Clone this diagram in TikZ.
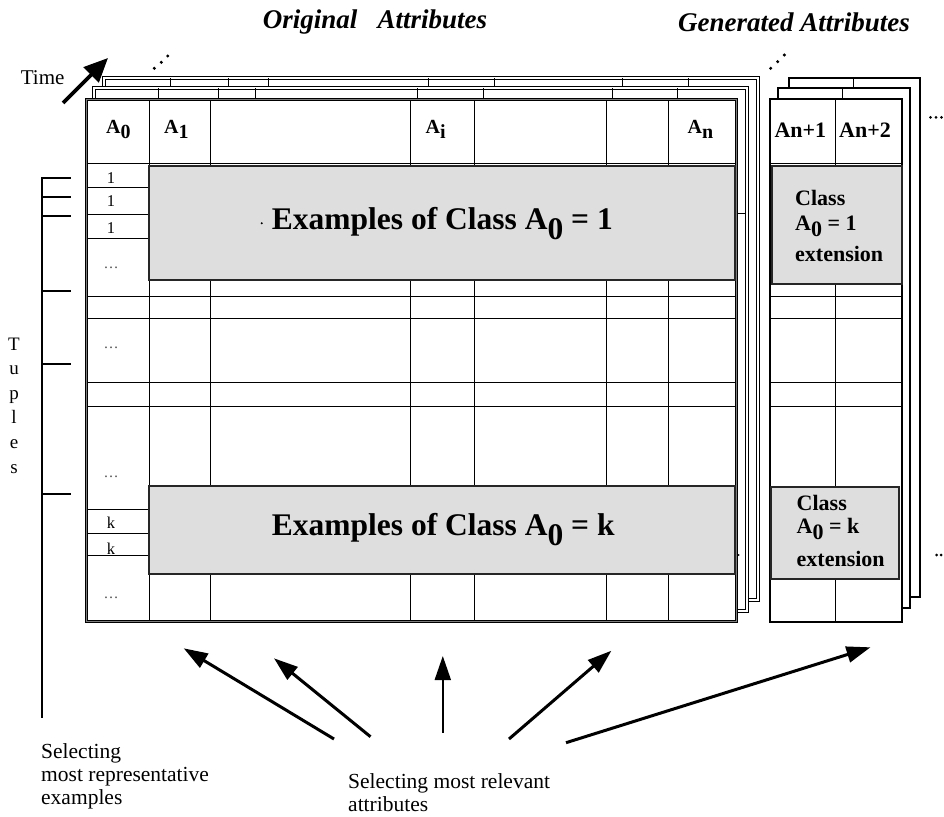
\documentclass[tikz,border=0pt]{standalone}
\usepackage{fontspec}
\setmainfont{Liberation Serif}
\usetikzlibrary{arrows.meta}
\definecolor{boxgray}{RGB}{222,222,222}
\definecolor{framegray}{RGB}{125,125,125}
\newcommand\lowr[1]{\raisebox{-0.28em}{#1}}
\newcommand\lowb[1]{\raisebox{-0.33em}{#1}}
\begin{document}
\begin{tikzpicture}[x=1pt,y=-1pt,
  grid/.style={line width=1pt,draw=black},
  outerframe/.style={draw=black,line width=3.4pt,fill=white},
  frontinner/.style={draw=framegray,line width=1.8pt},
  backinner/.style={draw=white,line width=1.3pt},
  genframe/.style={draw=black,line width=1.2pt,fill=white},
  classbox/.style={draw=black!85,line width=1.4pt,fill=boxgray},
  hdr/.style={font=\fontsize{20}{22}\selectfont\bfseries,anchor=base west,inner sep=0pt},
  ghdr/.style={font=\fontsize{22}{24}\selectfont\bfseries,anchor=base west,inner sep=0pt},
  big/.style={font=\fontsize{31.5}{34}\selectfont\bfseries,anchor=base west,inner sep=0pt},
  cell/.style={font=\fontsize{16.5}{18}\selectfont,anchor=base,inner sep=0pt},
  dotsl/.style={font=\fontsize{15}{16}\selectfont,text=black!70,inner sep=0pt},
  ttl/.style={font=\fontsize{27}{29}\selectfont\bfseries\itshape,inner sep=0pt},
  plain/.style={font=\fontsize{21}{22}\selectfont,anchor=base west,inner sep=0pt},
  btxt/.style={font=\fontsize{21.5}{22}\selectfont,anchor=base west,inner sep=0pt},
  tup/.style={font=\fontsize{19}{20}\selectfont,anchor=base,inner sep=0pt},
  bigarrow/.style={line width=3pt,-{Triangle[length=24pt,width=16pt]}},
  tick/.style={line width=2.2pt}
]
\useasboundingbox (0,0) rectangle (944,816);

% ---------- titles ----------
\node[ttl] (t1) at (375,22) {Original\ \ \ Attributes};
\node[ttl] (t2) at (794,22) {Generated Attributes};

% ---------- main table layers ----------
\draw[outerframe] (104,78) rectangle (758,600);
\draw[backinner] (104,78) rectangle (758,600);
\foreach \x in {170.4,228,268,428,494.8,622,688.4} \draw[grid] (\x,78) -- (\x,88);
\draw[outerframe] (94,88) rectangle (747,611);
\draw[backinner] (94,88) rectangle (747,611);
\foreach \x in {158.8,218,255,417,483.7,612,677.7} \draw[grid] (\x,88) -- (\x,99);
\draw[outerframe] (86.5,99.5) rectangle (736.5,621.5);
\draw[frontinner] (86.5,99.5) rectangle (736.5,621.5);
\draw[grid] (737,213.6) -- (745,213.6);

% grid of the front table
\foreach \x in {149,210,410,474,606,668} \draw[grid] (\x,101) -- (\x,620);
\draw[grid] (88,163) -- (735,163);
\foreach \y in {296,318,382,406} \draw[grid] (88,\y) -- (735,\y);
\foreach \y in {187,214,238,509,533,555} \draw[grid] (88,\y) -- (149,\y);

% class boxes
\draw[classbox] (149,166) rectangle (735,280);
\draw[classbox] (149,486) rectangle (735,574);

% ---------- generated attributes table ----------
\draw[genframe] (789,78) rectangle (920,597);
\draw[grid] (853,78) -- (853,88);
\draw[genframe] (778,88) rectangle (910,608);
\draw[grid] (842,88) -- (842,99);
\draw[genframe] (770,99) rectangle (902,622);
\draw[grid] (835,99) -- (835,622);
\draw[grid] (770,163) -- (902,163);
\foreach \y in {296,318,382,406} \draw[grid] (770,\y) -- (902,\y);
\draw[classbox] (772,166) rectangle (902,284);
\draw[classbox] (771,487) rectangle (899,579);

% ---------- header labels ----------
\node[hdr] (a0) at (106,133.3) {A\lowr{0}};
\node[hdr] (a1) at (164,133.3) {A\lowr{1}};
\node[hdr] (ai) at (425.5,133.3) {A\lowr{i}};
\node[hdr] (an) at (687.5,133.3) {A\lowr{n}};
\node[ghdr] (an1) at (774.3,137.3) {An+1};
\node[ghdr] (an2) at (839,137.3) {An+2};

% ---------- class texts ----------
\node[big] (ex1) at (271.7,229.3) {Examples of Class A\lowb{0} = 1};
\node[big] (exk) at (271.7,535) {Examples of Class A\lowb{0} = k};
\node[ghdr] (c1a) at (795,205) {Class};
\node[ghdr] (c1b) at (795,230.5) {A\lowr{0} = 1};
\node[ghdr] (c1c) at (795,261.6) {extension};
\node[ghdr] (cka) at (796.5,510) {Class};
\node[ghdr] (ckb) at (796.5,533) {A\lowr{0} = k};
\node[ghdr] (ckc) at (796.5,566.7) {extension};

% ---------- A0 column values ----------
\node[cell] (v1) at (111,183) {1};
\node[cell] (v2) at (111,206.7) {1};
\node[cell] (v3) at (111,233) {1};
\node[cell] (vk1) at (111,528.3) {k};
\node[cell] (vk2) at (111,554) {k};
\node[dotsl] (d1) at (111,268) {\ldots};
\node[dotsl] (d2) at (111,348) {\ldots};
\node[dotsl] (d3) at (111,477) {\ldots};
\node[dotsl] (d4) at (111,598) {\ldots};

% stray dots
\fill (261.7,223.3) circle (1.1);
\fill (738.7,555) circle (1.0);

% ---------- ellipsis marks ----------
\foreach \p in {(154.3,68.3),(161.3,62.3),(167.7,56),(770.7,68.3),(777.7,61.7),(784.3,55)}
  \fill \p circle (1.7);
\foreach \p in {(930.5,117.3),(936,117.3),(941.5,117.3),(936.5,555),(941,555)}
  \fill \p circle (1.5);

% ---------- Time ----------
\node[plain] (time) at (20.7,84.3) {Time};
\coordinate (timetail) at (63,103);
\coordinate (timetip) at (108,58);
\draw[line width=3.8pt,-{Triangle[length=24pt,width=21pt]}] (timetail) -- (timetip);

% ---------- Tuples ----------
\draw[line width=1.2pt] (42,178) -- (42,718);
\foreach \y in {178,197,216,291,364,494} \draw[tick] (41.4,\y) -- (71,\y);
\foreach \c [count=\i from 0] in {T,u,p,l,e,s}
  \node[tup] (tu\i) at (14,350+24.6*\i) {\c};

% ---------- bottom arrows ----------
\coordinate (s1) at (334,739);   \coordinate (e1) at (183.7,648.3);
\coordinate (s2) at (370.5,736.7); \coordinate (e2) at (274,658.3);
\coordinate (s3) at (442.8,732.7); \coordinate (e3) at (442.8,656);
\coordinate (s4) at (509,739);   \coordinate (e4) at (611.4,650.7);
\coordinate (s5) at (566,742.7); \coordinate (e5) at (870.5,647.3);
\draw[bigarrow] (s1) -- (e1);
\draw[bigarrow] (s2) -- (e2);
\draw[bigarrow,line width=2pt] (s3) -- (e3);
\draw[bigarrow] (s4) -- (e4);
\draw[bigarrow] (s5) -- (e5);

% ---------- bottom texts ----------
\node[btxt] (b1) at (41,758.5) {Selecting};
\node[btxt] (b2) at (41,781.5) {most representative};
\node[btxt] (b3) at (41,804.5) {examples};
\node[btxt] (b4) at (348,788.5) {Selecting most relevant};
\node[btxt] (b5) at (348,811.5) {attributes};
\end{tikzpicture}
\end{document}
